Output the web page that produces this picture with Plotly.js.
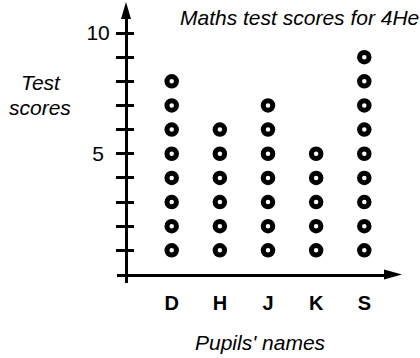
<!DOCTYPE html>
<html>
<head>
<meta charset="utf-8">
<script src="https://cdn.plot.ly/plotly-3.0.1.min.js"></script>
<style>
  html, body { margin: 0; padding: 0; background: #fff; }
  #chart { width: 420px; height: 358px; }
</style>
</head>
<body>
<div id="chart"></div>
<script>
// ---- data ----
const pupils = ['D', 'H', 'J', 'K', 'S'];
const scores = [8, 6, 7, 5, 9];
const yTickVals = [1, 2, 3, 4, 5, 6, 7, 8, 9, 10];
const yTickText = ['', '', '', '', '5\u00a0', '', '', '', '', '10'];
const chartTitle = 'Maths test scores for 4He';
const xTitle = "Pupils' names";
const yTitleLines = ['Test', 'scores'];

// one dot per mark scored
const dotX = [], dotY = [];
pupils.forEach((p, i) => {
  for (let s = 1; s <= scores[i]; s++) { dotX.push(p); dotY.push(s); }
});

// ---- layout geometry (pixels) ----
const W = 420, H = 358;
const L = 117, R = 390, T = 15, B = 283;      // plot area
const PW = R - L, PH = B - T;
const px = v => (v - L) / PW;
const py = v => (B - v) / PH;

const FONT = 'Liberation Sans, Arial, sans-serif';
const yRange = [-(B - 274.5) / 24.15, (274.5 - T) / 24.15];
const xRange = [(L - 171.7) / 48.15, (R - 171.7) / 48.15];

const trace = {
  type: 'scatter', mode: 'markers', x: dotX, y: dotY,
  marker: { symbol: 'circle', size: 9.5, color: '#fff', line: { color: '#000', width: 5 } },
  hoverinfo: 'skip', cliponaxis: false
};

const textFont = { family: FONT, size: 21, style: 'italic', color: '#000' };

const layout = {
  width: W, height: H,
  margin: { l: L, r: W - R, t: T, b: H - B, pad: 0 },
  paper_bgcolor: '#fff', plot_bgcolor: '#fff',
  showlegend: false,
  font: { family: FONT, color: '#000' },
  xaxis: {
    type: 'category', categoryorder: 'array', categoryarray: pupils,
    range: xRange, anchor: 'free', position: (B - 274.5) / PH,
    showline: true, linecolor: '#000', linewidth: 3,
    showgrid: false, zeroline: false, ticks: '',
    ticklabelstandoff: 9,
    tickfont: { family: FONT, size: 20, weight: 'bold', color: '#000' },
    fixedrange: true
  },
  yaxis: {
    range: yRange, anchor: 'free', position: px(126),
    showline: true, linecolor: '#000', linewidth: 3,
    showgrid: false, zeroline: false,
    tickmode: 'array', tickvals: yTickVals, ticktext: yTickText,
    ticks: 'outside', ticklen: 9, tickwidth: 3, tickcolor: '#000',
    ticklabelstandoff: 2,
    tickfont: { family: FONT, size: 21, color: '#000' },
    fixedrange: true
  },
  yaxis2: {
    range: yRange, anchor: 'free', position: px(126), overlaying: 'y', side: 'left',
    showline: false, showgrid: false, zeroline: false,
    tickmode: 'array', tickvals: yTickVals, showticklabels: false,
    ticks: 'inside', ticklen: 7, tickwidth: 3, tickcolor: '#000',
    fixedrange: true
  },
  shapes: [
    { type: 'path', xref: 'paper', yref: 'paper', layer: 'above',
      path: `M${px(126)},${py(2)} L${px(121)},${py(19)} L${px(131)},${py(19)} Z`,
      fillcolor: '#000', line: { width: 0 } },
    { type: 'path', xref: 'paper', yref: 'paper', layer: 'above',
      path: `M${px(402)},${py(274.5)} L${px(384)},${py(269.5)} L${px(384)},${py(279.5)} Z`,
      fillcolor: '#000', line: { width: 0 } }
  ],
  annotations: [
    { text: chartTitle, xref: 'paper', yref: 'paper', x: px(178), y: py(17),
      xanchor: 'left', yanchor: 'middle', showarrow: false, font: textFont },
    { text: yTitleLines[0], xref: 'paper', yref: 'paper', x: px(41), y: py(83),
      xanchor: 'center', yanchor: 'middle', showarrow: false, font: textFont },
    { text: yTitleLines[1], xref: 'paper', yref: 'paper', x: px(40), y: py(108),
      xanchor: 'center', yanchor: 'middle', showarrow: false, font: textFont },
    { text: xTitle, xref: 'paper', yref: 'paper', x: px(260), y: py(342),
      xanchor: 'center', yanchor: 'middle', showarrow: false, font: textFont }
  ]
};

Plotly.newPlot('chart', [trace, Object.assign({}, trace, { yaxis: 'y2', x: [], y: [] })], layout,
  { displayModeBar: false, staticPlot: true });
</script>
</body>
</html>
